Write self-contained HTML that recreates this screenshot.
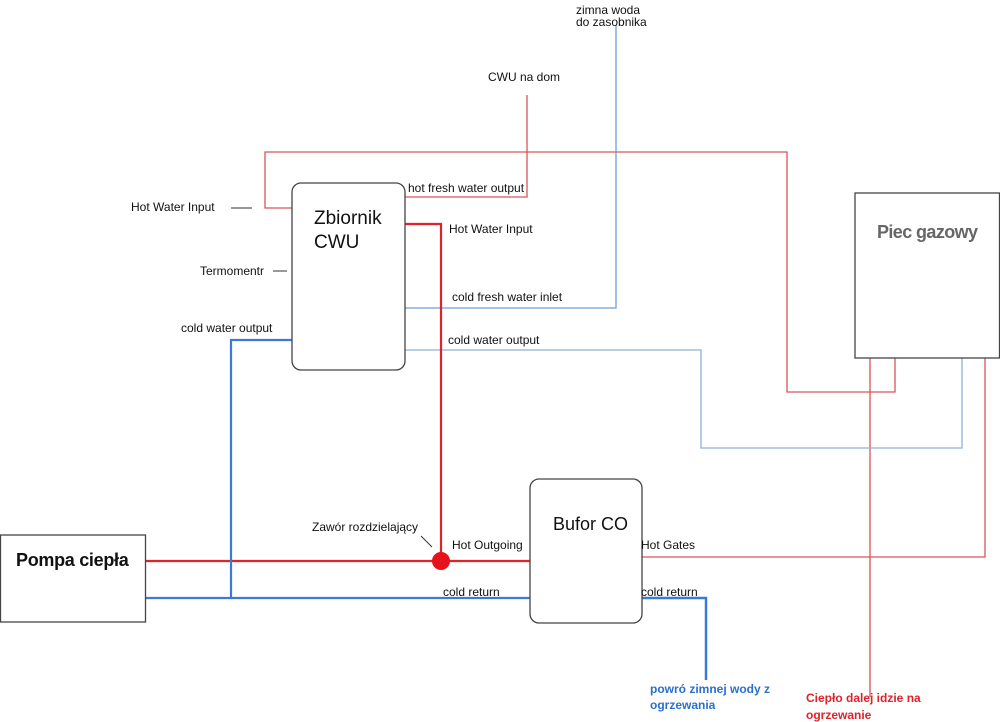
<!DOCTYPE html>
<html><head><meta charset="utf-8"><style>
body{margin:0;background:#fff}
svg{display:block;font-family:"Liberation Sans",sans-serif}
text{font-size:12px;fill:#111}
</style></head><body>
<svg width="1000" height="722" viewBox="0 0 1000 722">
<g fill="none" stroke-linejoin="miter">
<polyline points="292,208 265,208 265,152 787,152 787,392 895,392 895,358" stroke="#d9545a" stroke-width="1.3"/>
<polyline points="405,197 527,197 527,95" stroke="#d9545a" stroke-width="1.3"/>
<line x1="870" y1="358" x2="870" y2="697" stroke="#d9545a" stroke-width="1.3"/>
<polyline points="641,557 985,557 985,358" stroke="#d9545a" stroke-width="1.3"/>
<polyline points="405,308 616,308 616,25" stroke="#6d9fd8" stroke-width="1.3"/>
<polyline points="405,350 701,350 701,448 962,448 962,358" stroke="#8fb0d8" stroke-width="1.3"/>
<polyline points="405,224 441,224 441,561" stroke="#e0222a" stroke-width="2.2"/>
<line x1="145" y1="561" x2="530" y2="561" stroke="#e0222a" stroke-width="2.2"/>
<line x1="145" y1="598" x2="530" y2="598" stroke="#3a7bd5" stroke-width="2.2"/>
<polyline points="292,340 231,340 231,598" stroke="#3a7bd5" stroke-width="2.2"/>
<polyline points="641,598 706,598 706,680" stroke="#3a7bd5" stroke-width="2.5"/>
<line x1="231" y1="208" x2="252" y2="208" stroke="#333"/>
<line x1="273" y1="271" x2="287" y2="271" stroke="#333"/>
<line x1="421" y1="536" x2="432" y2="547" stroke="#333"/>
<rect x="292" y="183" width="113" height="187" rx="9" stroke="#444" stroke-width="1.3" fill="#fff"/>
<rect x="530" y="479" width="112" height="144" rx="9" stroke="#444" stroke-width="1.3" fill="#fff"/>
<rect x="0.5" y="535" width="145" height="87" stroke="#444" stroke-width="1.3" fill="#fff"/>
<rect x="855" y="193" width="144.5" height="165" stroke="#444" stroke-width="1.3" fill="#fff"/>
</g>
<circle cx="441" cy="561" r="9" fill="#e5121b"/>
<text x="576" y="14">zimna woda</text>
<text x="576" y="26">do zasobnika</text>
<text x="488" y="81">CWU na dom</text>
<text x="131" y="211">Hot Water Input</text>
<text x="200" y="275">Termomentr</text>
<text x="181" y="332">cold  water output</text>
<text x="408" y="192">hot fresh water output</text>
<text x="449" y="233">Hot Water Input</text>
<text x="452" y="301">cold fresh water inlet</text>
<text x="448" y="344">cold  water output</text>
<text x="314" y="224" style="font-size:19px">Zbiornik</text>
<text x="314" y="248" style="font-size:19px">CWU</text>
<text x="877" y="238" style="font-size:18px;fill:#666;font-weight:bold;letter-spacing:-0.6px">Piec gazowy</text>
<text x="553" y="530" style="font-size:18px">Bufor CO</text>
<text x="16" y="566" style="font-size:18px;font-weight:bold;letter-spacing:-0.3px">Pompa ciepła</text>
<text x="312" y="531">Zawór rozdzielający</text>
<text x="452" y="549">Hot Outgoing</text>
<text x="641" y="549">Hot Gates</text>
<text x="443" y="596">cold  return</text>
<text x="641" y="596">cold  return</text>
<text x="650" y="693" style="fill:#2a6fd0;font-weight:bold">powró zimnej wody z</text>
<text x="650" y="709" style="fill:#2a6fd0;font-weight:bold">ogrzewania</text>
<text x="806" y="702" style="fill:#e0222a;font-weight:bold">Ciepło dalej idzie na</text>
<text x="806" y="719" style="fill:#e0222a;font-weight:bold">ogrzewanie</text>
</svg>
</body></html>
